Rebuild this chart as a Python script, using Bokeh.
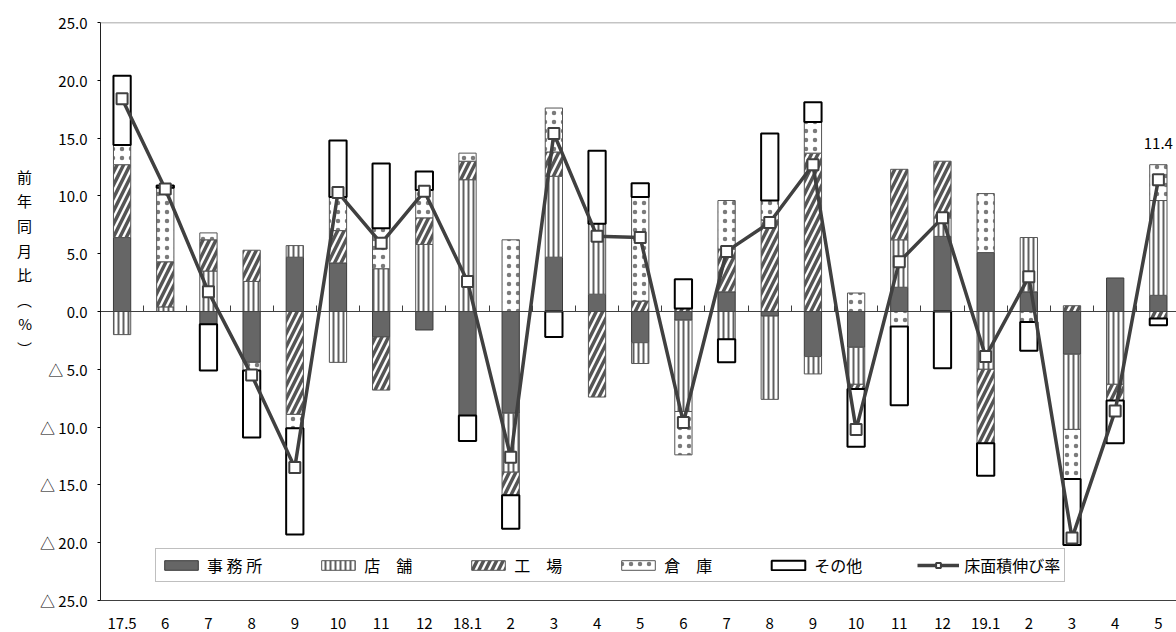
from bokeh.plotting import figure
from bokeh.models import (ColumnDataSource, LinearAxis, FixedTicker, CustomJSTickFormatter,
                          Legend, LegendItem, Label, Range1d, Span)
from bokeh.embed import file_html
from bokeh.resources import INLINE

# ---------------- data ----------------
categories = ["17.5", "6", "7", "8", "9", "10", "11", "12", "18.1", "2", "3", "4", "5",
              "6", "7", "8", "9", "10", "11", "12", "19.1", "2", "3", "4", "5"]
office    = [6.4, 0.0, -1.1, -4.4, 4.7, 4.2, -2.2, -1.6, -9.0, -8.8, 4.7, 1.5, -2.7,
             -0.75, 1.7, -0.4, -3.9, -3.1, 2.1, 6.5, 5.1, 1.7, -3.7, 2.9, 1.4]
store     = [-2.0, 0.4, 3.5, 2.6, 1.0, -4.4, 3.7, 5.8, 11.4, -5.1, 7.0, 6.1, -1.8,
             -7.9, -2.4, -7.2, -1.5, -3.2, 4.1, 1.6, -5.0, 4.7, -6.5, -6.3, 8.2]
factory   = [6.3, 3.9, 2.7, 2.7, -8.9, 2.8, -4.6, 2.3, 1.6, -2.0, 2.1, -7.4, 0.9,
             0.25, 3.7, 7.9, 13.7, -0.4, 6.1, 4.9, -6.4, 0.0, 0.5, -1.4, -0.6]
warehouse = [1.7, 6.4, 0.6, -0.7, -1.2, 2.9, 3.5, 2.4, 0.7, 6.2, 3.8, 0.0, 9.0,
             -3.75, 4.2, 1.7, 2.7, 1.6, -1.3, 0.0, 5.1, -0.9, -4.3, 0.0, 3.1]
other     = [6.0, 0.2, -4.0, -5.8, -9.2, 4.9, 5.6, 1.6, -2.2, -2.9, -2.2, 6.3, 1.2,
             2.55, -2.0, 5.8, 1.7, -5.0, -6.8, -4.9, -2.8, -2.5, -5.7, -3.7, -0.6]
growth    = [18.4, 10.6, 1.7, -5.5, -13.5, 10.3, 5.9, 10.4, 2.6, -12.6, 15.4, 6.5, 6.4,
             -9.6, 5.2, 7.7, 12.7, -10.2, 4.3, 8.1, -3.9, 3.0, -19.6, -8.6, 11.4]

series_names = ["事 務 所", "店　舗", "工　場", "倉　庫", "その他"]
line_name = "床面積伸び率"
y_title = ["前", "年", "同", "月", "比", "︵", "%", "︶"]

FONT = "Noto Sans CJK JP"
n = len(categories)
xs = list(range(n))

p = figure(width=1176, height=632, output_backend="svg", toolbar_location=None,
           x_range=Range1d(-0.5, 24.42), y_range=Range1d(-25, 25),
           min_border_left=100, min_border_right=0, min_border_top=22, min_border_bottom=32,
           x_axis_location=None, y_axis_location=None)
p.grid.visible = False
p.outline_line_color = None

# y axis (with vertically stacked title)
yaxis = LinearAxis(ticker=FixedTicker(ticks=list(range(-25, 30, 5))),
                   formatter=CustomJSTickFormatter(
                       code="return tick < 0 ? '\u25b3 ' + (-tick).toFixed(1) : tick.toFixed(1);"))
yaxis.axis_line_color = "#202020"
yaxis.major_tick_out = 3
yaxis.major_tick_in = 0
yaxis.minor_tick_line_color = None
yaxis.major_label_standoff = 10
yaxis.major_label_text_font = FONT
yaxis.major_label_text_font_size = "15px"
yaxis.major_label_text_color = "black"
yaxis.axis_label = "\n".join(y_title + ["\u3000"] * 4)
yaxis.axis_label_orientation = "horizontal"
yaxis.axis_label_text_font = FONT
yaxis.axis_label_text_font_size = "15px"
yaxis.axis_label_text_font_style = "normal"
yaxis.axis_label_text_color = "black"
yaxis.axis_label_text_line_height = 1.17
yaxis.axis_label_standoff = 5
p.add_layout(yaxis, "left")

# bottom category axis
xaxis = LinearAxis(ticker=FixedTicker(ticks=xs),
                   major_label_overrides={i: c for i, c in enumerate(categories)})
xaxis.axis_line_color = "#404040"
xaxis.major_tick_line_color = None
xaxis.minor_tick_line_color = None
xaxis.major_label_standoff = 11
xaxis.major_label_text_font = FONT
xaxis.major_label_text_font_size = "15px"
xaxis.major_label_text_color = "black"
p.add_layout(xaxis, "below")

# zero line with category separators
zaxis = LinearAxis(ticker=FixedTicker(ticks=[i + 0.5 for i in xs]), fixed_location=0)
zaxis.axis_line_color = "#404040"
zaxis.major_tick_line_color = "#404040"
zaxis.major_tick_out = 6
zaxis.major_tick_in = 0
zaxis.minor_tick_line_color = None
zaxis.major_label_text_font_size = "0px"
zaxis.major_label_standoff = 0
zaxis.major_label_text_alpha = 0
p.add_layout(zaxis, "above")

p.add_layout(Span(location=25, dimension="width", line_color="#8a8a8a", line_width=1.5))

# stacked bars (positive up, negative down)
styles = [
    dict(fill_color="#666666", line_color="#3a3a3a", line_width=1),
    dict(fill_color="white", hatch_pattern="|", hatch_color="#5f5f5f", hatch_scale=5,
         hatch_weight=2, line_color="#555555", line_width=1),
    dict(fill_color="white", hatch_pattern="/", hatch_color="#555555", hatch_scale=13,
         hatch_weight=3.5, line_color="#555555", line_width=1),
    dict(fill_color="white", hatch_pattern=".", hatch_color="#7a7a7a", hatch_scale=9,
         hatch_weight=0.8, line_color="#555555", line_width=1),
    dict(fill_color="white", line_color="black", line_width=2),
]
series = [office, store, factory, warehouse, other]
pos = [0.0] * n
neg = [0.0] * n
bar_renderers = []
for vals, st in zip(series, styles):
    bx, bb, bt = [], [], []
    for i, v in enumerate(vals):
        if v > 0:
            bx.append(i); bb.append(pos[i]); bt.append(pos[i] + v); pos[i] += v
        elif v < 0:
            bx.append(i); bb.append(neg[i]); bt.append(neg[i] + v); neg[i] += v
    src = ColumnDataSource(dict(x=bx, bottom=bb, top=bt))
    r = p.vbar(x="x", bottom="bottom", top="top", width=0.4, source=src, **st)
    bar_renderers.append(r)

lsrc = ColumnDataSource(dict(x=xs, y=growth))
lr = p.line("x", "y", source=lsrc, line_color="#404040", line_width=3.5)
sr = p.scatter("x", "y", source=lsrc, marker="square", size=11, fill_color="white",
               line_color="#404040", line_width=2)

items = [LegendItem(label=nm, renderers=[r]) for nm, r in zip(series_names, bar_renderers)]
items.append(LegendItem(label=line_name, renderers=[lr, sr]))
legend = Legend(items=items, orientation="horizontal", location=(55, 18),
                glyph_width=42, glyph_height=12, label_standoff=5, spacing=55, padding=4,
                label_text_font=FONT, label_text_font_size="16px", label_text_color="black",
                label_height=18, border_line_color="#7f7f7f", border_line_width=1.5,
                background_fill_color="white", background_fill_alpha=1.0, margin=0)
p.add_layout(legend, "center")

# last value annotation
p.add_layout(Label(x=xs[-1], y=growth[-1], text=f"{growth[-1]:.1f}", y_offset=31,
                   text_align="center", text_baseline="bottom", text_font=FONT,
                   text_font_size="15px", text_color="black"))

open("out.html", "w").write(file_html(p, INLINE))
